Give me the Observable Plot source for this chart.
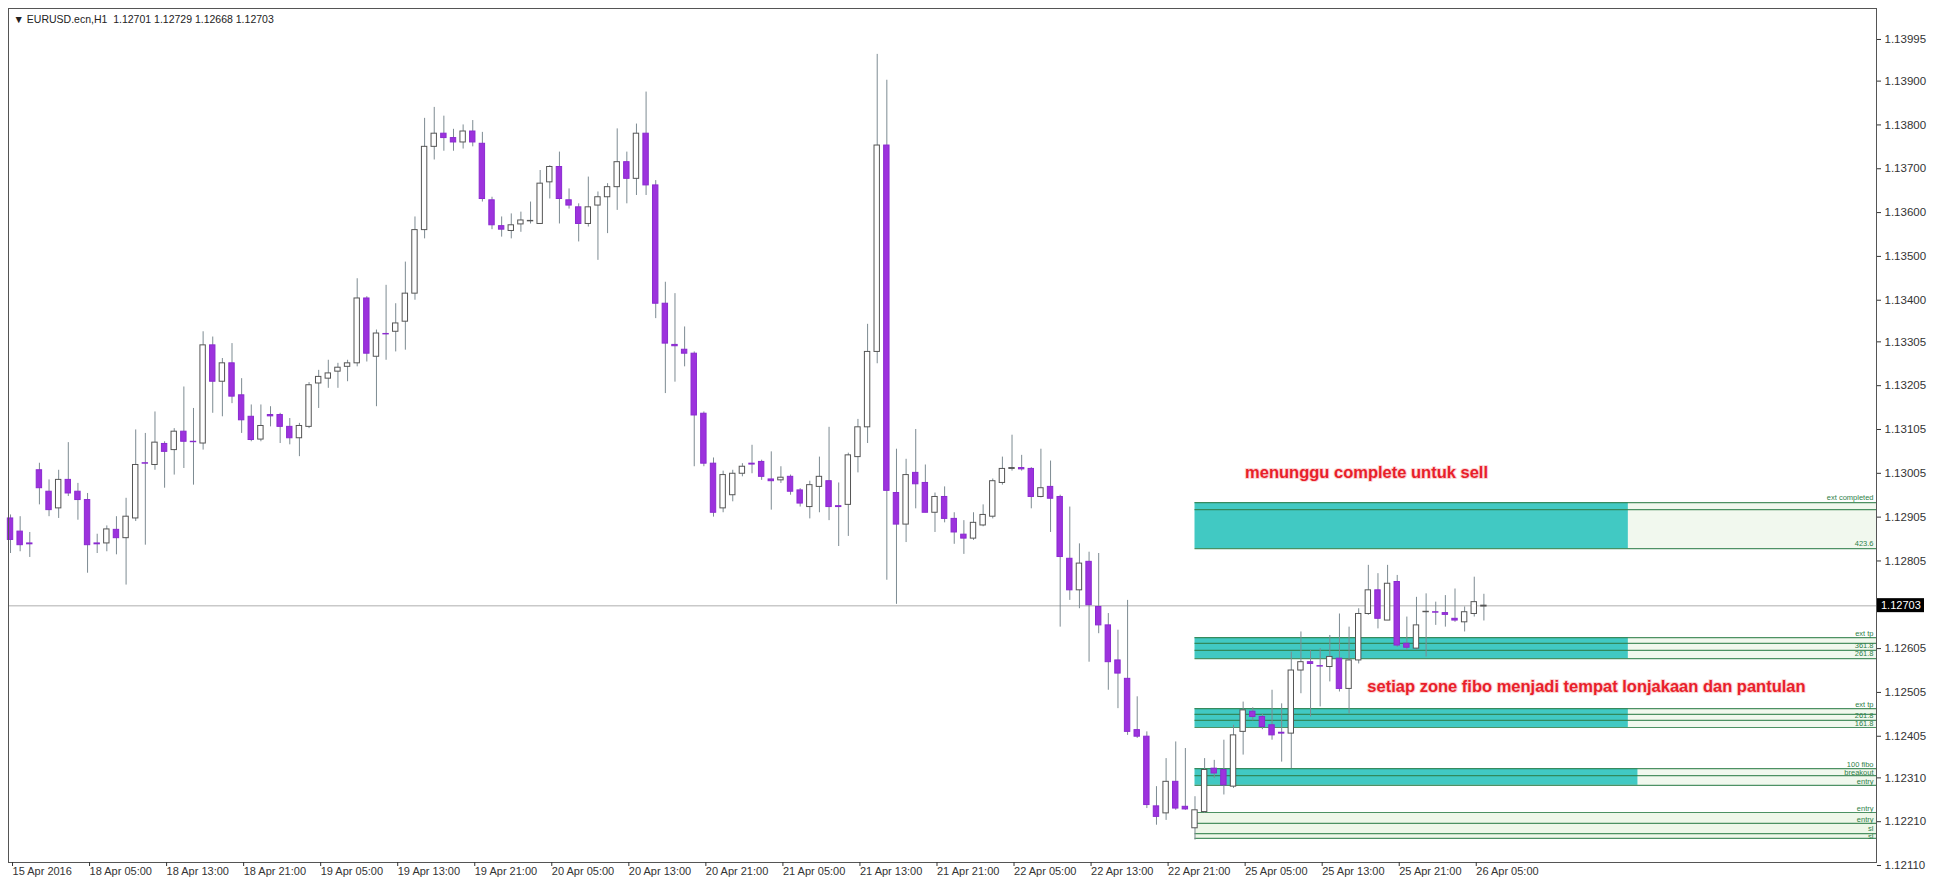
<!DOCTYPE html>
<html><head><meta charset="utf-8">
<script src="https://cdn.jsdelivr.net/npm/d3@7"></script>
<script src="https://cdn.jsdelivr.net/npm/@observablehq/plot@0.6"></script>
<style>body{margin:0;background:#fff;} svg{display:block;}</style>
</head><body><div id="chart"></div>
<script>
// EURUSD H1 candles, index 0 = 15 Apr 2016 21:00
const openP = [1.12902,1.12872,1.12845,1.13012,1.12963,1.12925,1.12990,1.12963,1.12944,1.12845,1.12845,1.12876,1.12857,1.12902,1.13028,1.13024,1.13072,1.13058,1.13100,1.13077,1.13073,1.13297,1.13214,1.13256,1.13183,1.13134,1.13082,1.13138,1.13138,1.13111,1.13085,1.13111,1.13210,1.13221,1.13237,1.13248,1.13256,1.13404,1.13271,1.13323,1.13328,1.13351,1.13415,1.13560,1.13750,1.13780,1.13770,1.13760,1.13785,1.13757,1.13628,1.13569,1.13558,1.13573,1.13580,1.13574,1.13669,1.13704,1.13628,1.13612,1.13574,1.13616,1.13635,1.13658,1.13715,1.13677,1.13780,1.13662,1.13392,1.13298,1.13287,1.13278,1.13141,1.13027,1.12925,1.12955,1.13004,1.13027,1.13031,1.12991,1.12989,1.12997,1.12966,1.12928,1.12974,1.12987,1.12930,1.12933,1.13042,1.13110,1.13282,1.13753,1.12960,1.12888,1.13006,1.12983,1.12915,1.12951,1.12901,1.12865,1.12856,1.12886,1.12906,1.12983,1.13015,1.13017,1.13015,1.12951,1.12974,1.12951,1.12810,1.12738,1.12803,1.12700,1.12658,1.12578,1.12536,1.12419,1.12404,1.12245,1.12229,1.12301,1.12244,1.12195,1.12232,1.12331,1.12328,1.12290,1.12415,1.12461,1.12449,1.12430,1.12413,1.12411,1.12555,1.12574,1.12565,1.12563,1.12582,1.12513,1.12578,1.12684,1.12738,1.12669,1.12757,1.12616,1.12605,1.12688,1.12688,1.12686,1.12673,1.12665,1.12684,1.12701];
const highP = [1.12910,1.12906,1.12870,1.13028,1.12990,1.13012,1.13075,1.12982,1.12959,1.12866,1.12885,1.12906,1.12948,1.13104,1.13096,1.13145,1.13077,1.13107,1.13202,1.13153,1.13328,1.13316,1.13267,1.13301,1.13221,1.13161,1.13161,1.13157,1.13142,1.13130,1.13119,1.13212,1.13240,1.13263,1.13256,1.13263,1.13449,1.13408,1.13332,1.13434,1.13392,1.13487,1.13590,1.13815,1.13840,1.13820,1.13790,1.13800,1.13810,1.13783,1.13635,1.13590,1.13597,1.13601,1.13624,1.13696,1.13707,1.13738,1.13654,1.13620,1.13681,1.13647,1.13666,1.13791,1.13738,1.13802,1.13875,1.13673,1.13441,1.13415,1.13339,1.13282,1.13145,1.13040,1.13010,1.13012,1.13027,1.13069,1.13035,1.13054,1.13020,1.13001,1.12970,1.12987,1.13042,1.13110,1.12983,1.13051,1.13128,1.13345,1.13961,1.13902,1.13060,1.13037,1.13105,1.13024,1.12960,1.12974,1.12915,1.12897,1.12915,1.12933,1.12992,1.13042,1.13092,1.13046,1.13018,1.13060,1.13033,1.12955,1.12928,1.12844,1.12825,1.12822,1.12685,1.12647,1.12715,1.12495,1.12415,1.12290,1.12354,1.12392,1.12377,1.12267,1.12354,1.12350,1.12396,1.12430,1.12483,1.12470,1.12455,1.12510,1.12479,1.12597,1.12643,1.12601,1.12605,1.12635,1.12684,1.12654,1.12696,1.12795,1.12776,1.12795,1.12772,1.12677,1.12722,1.12730,1.12711,1.12726,1.12741,1.12700,1.12768,1.12729];
const lowP = [1.12822,1.12826,1.12813,1.12933,1.12906,1.12902,1.12952,1.12898,1.12777,1.12822,1.12826,1.12819,1.12750,1.12895,1.12841,1.13012,1.12971,1.13001,1.13016,1.12978,1.13058,1.13142,1.13134,1.13164,1.13096,1.13077,1.13077,1.13111,1.13073,1.13070,1.13043,1.13107,1.13153,1.13199,1.13199,1.13214,1.13248,1.13259,1.13157,1.13263,1.13282,1.13286,1.13400,1.13540,1.13720,1.13740,1.13740,1.13745,1.13750,1.13624,1.13561,1.13544,1.13540,1.13555,1.13574,1.13573,1.13631,1.13574,1.13608,1.13533,1.13567,1.13491,1.13552,1.13605,1.13620,1.13639,1.13639,1.13358,1.13187,1.13213,1.13248,1.13020,1.13020,1.12905,1.12915,1.12940,1.12997,1.13004,1.12989,1.12921,1.12982,1.12955,1.12928,1.12901,1.12915,1.12897,1.12838,1.12861,1.13006,1.13073,1.13255,1.12761,1.12706,1.12847,1.12924,1.12915,1.12870,1.12892,1.12843,1.12820,1.12852,1.12883,1.12901,1.12978,1.13010,1.13010,1.12924,1.12949,1.12870,1.12654,1.12715,1.12696,1.12574,1.12639,1.12510,1.12468,1.12407,1.12400,1.12240,1.12202,1.12213,1.12236,1.12236,1.12168,1.12229,1.12309,1.12271,1.12286,1.12362,1.12440,1.12420,1.12396,1.12346,1.12331,1.12502,1.12449,1.12472,1.12529,1.12506,1.12456,1.12570,1.12681,1.12650,1.12669,1.12608,1.12601,1.12601,1.12586,1.12658,1.12654,1.12665,1.12643,1.12677,1.12668];
const closeP = [1.12853,1.12841,1.12843,1.12971,1.12921,1.12990,1.12959,1.12944,1.12841,1.12843,1.12877,1.12857,1.12906,1.13024,1.13027,1.13075,1.13054,1.13100,1.13077,1.13076,1.13297,1.13214,1.13256,1.13180,1.13126,1.13081,1.13113,1.13135,1.13111,1.13085,1.13113,1.13206,1.13225,1.13233,1.13246,1.13256,1.13404,1.13278,1.13324,1.13322,1.13347,1.13415,1.13560,1.13750,1.13780,1.13770,1.13760,1.13785,1.13760,1.13631,1.13571,1.13561,1.13571,1.13582,1.13581,1.13666,1.13704,1.13631,1.13616,1.13574,1.13612,1.13635,1.13658,1.13715,1.13677,1.13780,1.13662,1.13392,1.13301,1.13295,1.13278,1.13137,1.13027,1.12915,1.13001,1.13004,1.13020,1.13025,1.12997,1.12987,1.12995,1.12963,1.12936,1.12978,1.12997,1.12928,1.12928,1.13046,1.13110,1.13282,1.13753,1.12965,1.12888,1.13001,1.12980,1.12915,1.12951,1.12901,1.12870,1.12856,1.12892,1.12910,1.12987,1.13015,1.13017,1.13014,1.12951,1.12971,1.12947,1.12814,1.12738,1.12799,1.12704,1.12658,1.12574,1.12548,1.12415,1.12404,1.12248,1.12221,1.12301,1.12240,1.12238,1.12236,1.12328,1.12320,1.12293,1.12407,1.12464,1.12449,1.12426,1.12407,1.12411,1.12555,1.12574,1.12570,1.12564,1.12586,1.12513,1.12578,1.12684,1.12738,1.12673,1.12753,1.12612,1.12607,1.12658,1.12689,1.12687,1.12682,1.12669,1.12688,1.12711,1.12703];

const timeTickIndex = [0,8,16,24,32,40,48,56,64,72,80,88,96,104,112,120,128,136,144,152];
const timeTickLabels = ["15 Apr 2016","18 Apr 05:00","18 Apr 13:00","18 Apr 21:00","19 Apr 05:00","19 Apr 13:00","19 Apr 21:00","20 Apr 05:00","20 Apr 13:00","20 Apr 21:00","21 Apr 05:00","21 Apr 13:00","21 Apr 21:00","22 Apr 05:00","22 Apr 13:00","22 Apr 21:00","25 Apr 05:00","25 Apr 13:00","25 Apr 21:00","26 Apr 05:00"];
const priceTicks = [1.13995,1.13900,1.13800,1.13700,1.13600,1.13500,1.13400,1.13305,1.13205,1.13105,1.13005,1.12905,1.12805,1.12605,1.12505,1.12405,1.12310,1.12210,1.12110];

// Fibonacci zones (teal boxes)
const zoneStart = 123;
const zoneEnd = [168, 168, 168, 169];
const zoneTop = [1.12938, 1.12630, 1.12468, 1.12331];
const zoneBottom = [1.12833, 1.12582, 1.12425, 1.12293];
// Fibonacci level lines
const fibLevels = [1.12938, 1.12922, 1.12833, 1.12630, 1.12617, 1.12601, 1.12582, 1.12468, 1.12455, 1.12441, 1.12425, 1.12331, 1.12315, 1.12293, 1.12231, 1.12206, 1.12183, 1.12172];
// Fibonacci level labels (text and the price they sit at)
const fibLabelText = ["ext completed", "423.6", "ext tp", "361.8", "261.8", "ext tp", "261.8", "161.8", "100 fibo", "breakout", "entry", "entry", "entry", "sl", "sl"];
const fibLabelY = [1.12950, 1.12845, 1.12639, 1.12613, 1.12593, 1.12477, 1.12452, 1.12433, 1.12341, 1.12322, 1.12302, 1.12240, 1.12215, 1.12194, 1.12176];

const headerText = "\u25BC EURUSD.ecn,H1  1.12701 1.12729 1.12668 1.12703";
const notes = ["menunggu complete untuk sell", "setiap zone fibo menjadi tempat lonjakaan dan pantulan"];
const noteX = [128.2, 140.9];
const noteY = [1.13007, 1.12519];

const candles = openP.map((o, i) => ({i, o, h: highP[i], l: lowP[i], c: closeP[i]}));
const lastClose = closeP[closeP.length - 1];
const xMin = -0.21, xMax = 193.77;
const bodyHalf = 0.28;

const priceBox = (index, scales, values, dims) => {
  const y = scales.y(lastClose);
  const g = d3.create("svg:g");
  const x0 = dims.width - dims.marginRight;
  g.append("rect").attr("x", x0 + 1).attr("y", y - 7).attr("width", 47).attr("height", 14).attr("fill", "#000");
  g.append("text").attr("x", x0 + 5).attr("y", y + 4).attr("fill", "#fff").attr("text-anchor", "start")
    .attr("font-family", "Liberation Sans, Arial, sans-serif").attr("font-size", 11).text(lastClose.toFixed(5));
  return g.node();
};

const chart = Plot.plot({
  width: 1938, height: 881,
  marginLeft: 8, marginRight: 62, marginTop: 8, marginBottom: 19,
  style: {fontFamily: "Liberation Sans, Arial, sans-serif", background: "#fff", overflow: "visible"},
  x: {type: "linear", domain: [xMin, xMax]},
  y: {domain: [1.121169, 1.140657]},
  marks: [
    Plot.ruleY([lastClose], {stroke: "#c9c9c9", strokeWidth: 1.5}),
    Plot.rect(zoneEnd, {x1: d => d, x2: xMax, y1: (d, k) => zoneBottom[k], y2: (d, k) => zoneTop[k], fill: "#f1f8ee"}),
    Plot.rect([0], {x1: zoneStart, x2: xMax, y1: fibLevels[17], y2: fibLevels[14], fill: "#eef7e9"}),
    Plot.rect(zoneEnd, {x1: zoneStart, x2: d => d, y1: (d, k) => zoneBottom[k], y2: (d, k) => zoneTop[k], fill: "#41c9c3"}),
    Plot.ruleY(fibLevels, {x1: zoneStart, x2: xMax, stroke: "#2f7f4a", strokeWidth: 1.2, strokeOpacity: 0.85}),
    Plot.text(fibLabelText, {x: xMax, y: (d, k) => fibLabelY[k], text: d => d, textAnchor: "end", lineAnchor: "middle", dx: -3, fontSize: 7.5, fill: "#2f7f4a"}),
    Plot.ruleX(candles, {x: "i", y1: "l", y2: "h", stroke: "#7d8b92", strokeWidth: 1}),
    Plot.rect(candles.filter(d => d.c >= d.o), {x1: d => d.i - bodyHalf, x2: d => d.i + bodyHalf, y1: "o", y2: d => d.c === d.o ? d.c + 0.000006 : d.c, fill: "#fff", stroke: "#555", strokeWidth: 1}),
    Plot.rect(candles.filter(d => d.c < d.o), {x1: d => d.i - bodyHalf, x2: d => d.i + bodyHalf, y1: "o", y2: "c", fill: "#9d32dd", stroke: "#8a2ad0", strokeWidth: 1}),
    Plot.frame({stroke: "#555"}),
    Plot.axisY({anchor: "right", ticks: priceTicks, tickFormat: d => d.toFixed(5), tickSize: 4, tickPadding: 4, fontSize: 11.5, color: "#333", label: null}),
    Plot.axisX({anchor: "bottom", ticks: timeTickIndex, tickFormat: d => timeTickLabels[timeTickIndex.indexOf(d)], tickSize: 4, tickPadding: 1, textAnchor: "start", dx: 2, fontSize: 11, color: "#333", label: null}),
    Plot.text([headerText], {frameAnchor: "top-left", dx: 5, dy: 7, textAnchor: "start", lineAnchor: "top", fontSize: 10.5, fill: "#222"}),
    Plot.text(notes, {x: (d, k) => noteX[k], y: (d, k) => noteY[k], text: d => d, textAnchor: "start", fontSize: 16.5, fontWeight: "bold", fill: "#e8202a", stroke: "#fbd5d5", strokeWidth: 2, paintOrder: "stroke"}),
    priceBox
  ]
});
document.getElementById("chart").appendChild(chart);
</script>
</body></html>
